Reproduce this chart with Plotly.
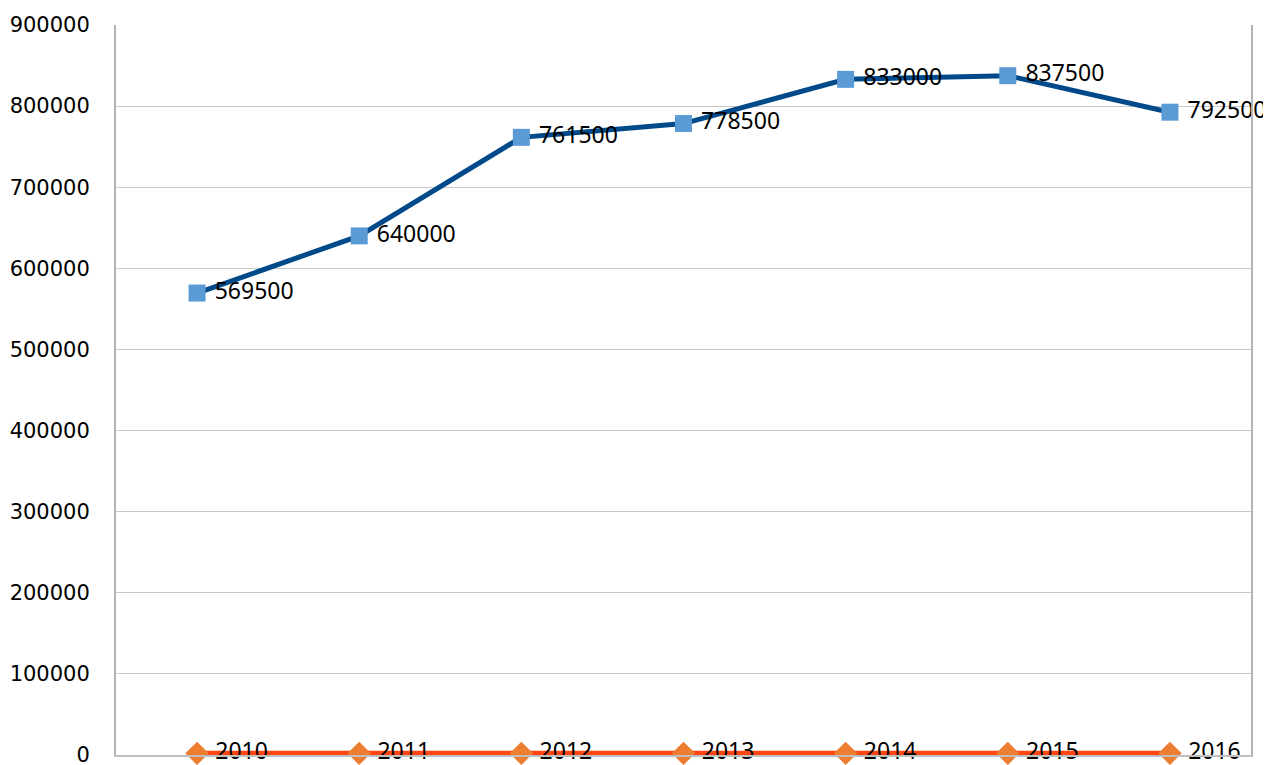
import plotly.graph_objects as go

categories = ["1", "2", "3", "4", "5", "6", "7"]
values = [569500, 640000, 761500, 778500, 833000, 837500, 792500]
years = [2010, 2011, 2012, 2013, 2014, 2015, 2016]
y_ticks = [0, 100000, 200000, 300000, 400000, 500000, 600000, 700000, 800000, 900000]

x = list(range(len(categories)))

fig = go.Figure()
fig.add_trace(go.Scatter(
    x=x, y=values, mode="lines+markers+text",
    text=[" " + str(v) for v in values], textposition="middle right",
    textfont=dict(family="Noto Sans", size=23, color="#000000"),
    line=dict(color="#004A8A", width=5),
    marker=dict(symbol="square", size=17, color="#5B9BD5"),
    cliponaxis=False, showlegend=False,
))
fig.add_trace(go.Scatter(
    x=x, y=years, mode="lines+markers+text",
    text=[" " + str(v) for v in years], textposition="middle right",
    textfont=dict(family="Noto Sans", size=23, color="#000000"),
    line=dict(color="#FF4511", width=5),
    marker=dict(symbol="diamond", size=18, color="#ED7D31"),
    cliponaxis=False, showlegend=False,
))

fig.update_layout(
    width=1263, height=757,
    margin=dict(l=108, r=20, t=17, b=10, autoexpand=False),
    paper_bgcolor="white", plot_bgcolor="white",
    xaxis=dict(range=[-0.5, len(categories) - 0.5], showgrid=False, showticklabels=False,
               showline=True, linecolor="#BFBFBF", linewidth=2, zeroline=False,
               mirror=False, fixedrange=True, automargin=False),
    yaxis=dict(range=[0, 900000], tickvals=y_ticks, ticktext=[str(t) for t in y_ticks],
               showgrid=True, gridcolor="#C8C8C8", gridwidth=1,
               showline=True, linecolor="#B4B4B4", linewidth=2, mirror=True,
               zeroline=False, ticks="", ticklabelstandoff=20, automargin=False,
               ticklabeloverflow="allow",
               tickfont=dict(family="DejaVu Sans", size=21, color="#000000")),
)

fig.write_html("out.html")
